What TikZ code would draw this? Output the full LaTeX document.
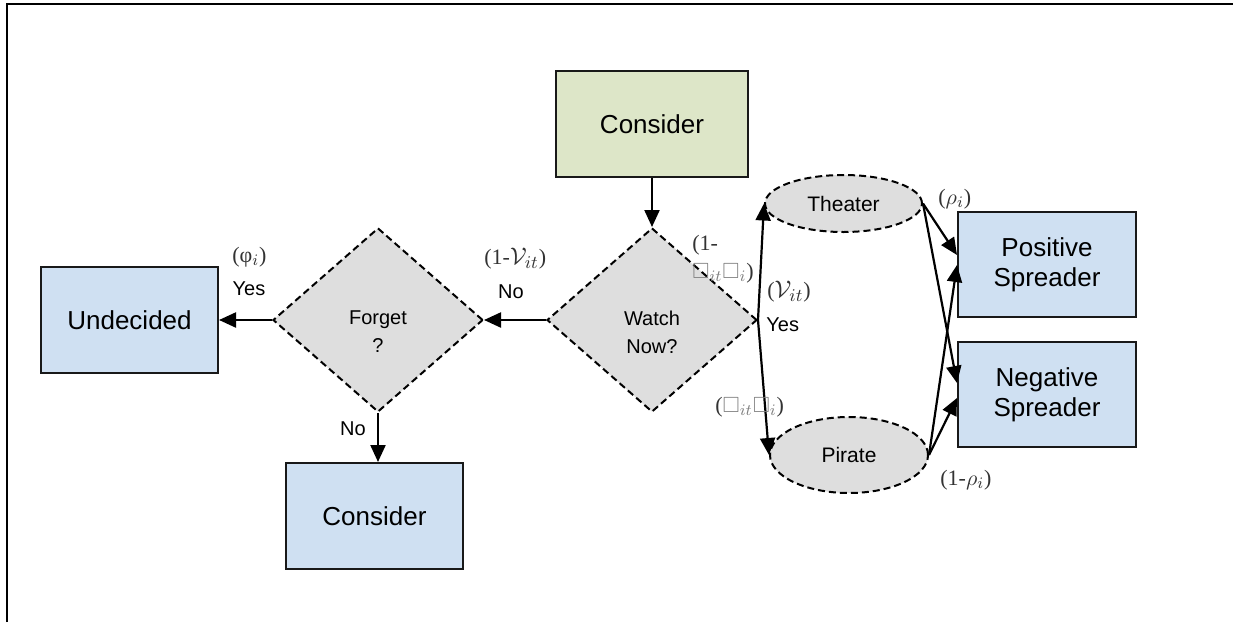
\documentclass[tikz,border=0pt]{standalone}
\usepackage{amsmath}
\usepackage{amssymb}
\usepackage{fontspec}
\setmainfont{Liberation Sans}
\newfontfamily\lblfont{Liberation Serif}
\usetikzlibrary{positioning}
\usetikzlibrary{shapes.geometric}
\usetikzlibrary{arrows.meta}

\definecolor{boxgreen}{HTML}{DDE6C8}
\definecolor{boxblue}{HTML}{CFE0F2}
\definecolor{decgray}{HTML}{DEDEDE}

\newcommand{\bigV}{{\fontsize{13}{14}\selectfont$\mathcal{V}_{it}$}}

\begin{document}
\begin{tikzpicture}[x=0.5pt,y=-0.5pt,
  stagebox/.style={draw=black!90, line width=1pt, minimum width=88.5pt,
    minimum height=53pt, inner sep=0, align=center,
    font=\fontsize{13}{15}\selectfont},
  question/.style={diamond, draw, dashed, dash pattern=on 3.5pt off 2pt,
    line width=1pt, fill=decgray, minimum width=105pt, minimum height=92pt,
    inner sep=0},
  outlet/.style={ellipse, draw, dash pattern=on 3.5pt off 2pt,
    line width=1pt, fill=decgray, inner sep=0,
    font=\fontsize{10.5}{12}\selectfont},
  flow/.style={line width=1.1pt, -{Triangle[length=8.5pt,width=7.5pt]}},
  choice/.style={font=\fontsize{10}{12}\selectfont},
  prob/.style={font=\lblfont\fontsize{11}{14}\selectfont, text=black!80,
    inner sep=0, anchor=west, align=left}
]
  \useasboundingbox (0,0) rectangle (1233,622);
  \draw[line width=1.25pt] (7,622) -- (7,4) -- (1233,4);

  %---------------- boxes ----------------
  \node[stagebox, fill=boxgreen, minimum width=96pt] (start) at (652,124) {Consider};
  \node[stagebox, fill=boxblue] (undecided) at (129.5,320) {Undecided};
  \node[stagebox, fill=boxblue] (consider) at (374.5,516) {Consider};
  \node[stagebox, fill=boxblue, minimum width=89pt, minimum height=52.5pt] (positive) at (1047,264.5) {Positive\\Spreader};
  \node[stagebox, fill=boxblue, minimum width=89pt, minimum height=52.5pt] (negative) at (1047,394.5) {Negative\\Spreader};

  %---------------- decisions ----------------
  \node[question, label={[choice, align=center, yshift=-6pt, font=\fontsize{10}{14}\selectfont]center:Watch\\Now?}] (watch) at (652,320) {};
  \node[question, label={[choice, align=center, yshift=-6pt, font=\fontsize{10}{14}\selectfont]center:Forget\\?}] (forget) at (378,320) {};

  \node[outlet, minimum width=78.5pt, minimum height=28.5pt] (theater) at (843.5,203.5) {Theater};
  \node[outlet, minimum width=79pt, minimum height=38pt] (pirate) at (849,455) {Pirate};

  %---------------- arrows ----------------
  \draw[flow] (start) -- (watch.north);
  \draw[flow] (watch.west) -- (forget.east);
  \draw[flow] (forget.west) -- (undecided.east);
  \draw[flow] (forget.south) -- (forget.south |- consider.north);
  \draw[flow] (watch.east) -- (theater.west);
  \draw[flow] (watch.east) -- (pirate.west);
  \draw[flow] (theater.east) -- ([yshift=4.75pt]positive.west);
  \draw[flow] (theater.east) -- ([yshift=5.75pt]negative.west);
  \draw[flow] (pirate.east) -- ([yshift=-0.25pt]positive.west);
  \draw[flow] (pirate.east) -- ([yshift=-1.75pt]negative.west);

  %---------------- labels ----------------
  \node[prob] (phi) at (232,257) {(φ$_i$)};
  \node[choice] (yes1) at (249,289) {Yes};
  \node[prob] (nv) at (484,259) {(1-\bigV)};
  \node[choice] (no1) at (511,292) {No};
  \node[choice] (no2) at (353,429) {No};
  \node[prob] (nw) at (692,259) {(1-\\{\color{gray}$\square_{it}\square_i$})};
  \node[prob] (vv) at (767,292) {(\bigV)};
  \node[choice, anchor=west, inner sep=0] (yes2) at (766,325) {Yes};
  \node[prob] (pw) at (715,407) {({\color{gray}$\square_{it}\square_i$})};
  \node[prob] (rho) at (938,199) {($\rho_i$)};
  \node[prob] (nrho) at (940,480) {(1-$\rho_i$)};
\end{tikzpicture}
\end{document}
